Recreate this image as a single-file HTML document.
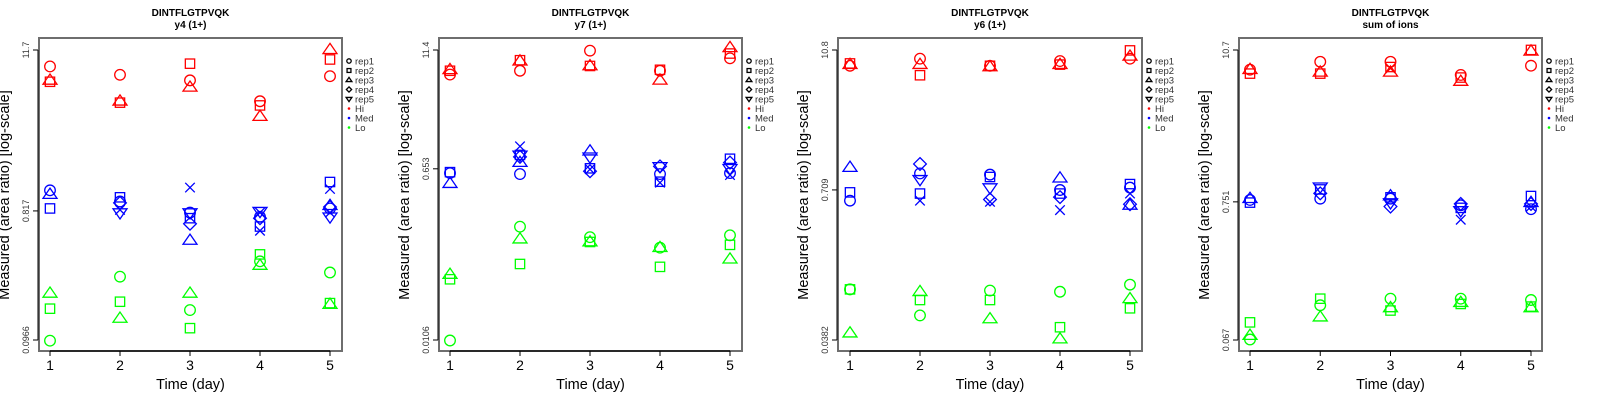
<!DOCTYPE html>
<html><head><meta charset="utf-8"><style>
html,body{margin:0;padding:0;background:#fff;width:1600px;height:400px;overflow:hidden}
svg text{font-family:"Liberation Sans",sans-serif}
</style></head><body>
<svg id="chart" width="1600" height="400" xmlns="http://www.w3.org/2000/svg"></svg>
<script>
// rep codes: 1 circle,2 square,3 triangle,4 diamond,5 down-triangle,6 cross
// each entry: [day, rep, log10(area ratio)]
const panelTitles = ["y4 (1+)", "y7 (1+)", "y6 (1+)", "sum of ions"];
const yTickLabels = [["11.7","0.817","0.0966"],["11.4","0.653","0.0106"],["10.8","0.709","0.0382"],["10.7","0.751","0.067"]];
const yTickValues = [[11.7,0.817,0.0966],[11.4,0.653,0.0106],[10.8,0.709,0.0382],[10.7,0.751,0.067]];
const days = [1,2,3,4,5];
const legendLabels = ["rep1","rep2","rep3","rep4","rep5","Hi","Med","Lo"];

const p1Hi = [[1,1,0.95],[1,2,0.84],[1,3,0.85],[2,1,0.89],[2,3,0.70],[2,2,0.69],[3,2,0.97],[3,1,0.85],[3,3,0.80],[4,1,0.70],[4,2,0.67],[4,3,0.59],[5,3,1.07],[5,2,1.00],[5,1,0.88]];
const p1Med = [[1,1,0.06],[1,3,0.03],[1,2,-0.07],[2,2,0.01],[2,1,-0.02],[2,4,-0.03],[2,6,-0.08],[2,5,-0.10],[3,6,0.08],[3,1,-0.10],[3,5,-0.10],[3,2,-0.14],[3,4,-0.18],[3,3,-0.30],[4,5,-0.09],[4,6,-0.10],[4,1,-0.13],[4,4,-0.14],[4,2,-0.20],[4,6,-0.23],[5,2,0.12],[5,6,0.07],[5,3,-0.05],[5,4,-0.06],[5,1,-0.07],[5,6,-0.10],[5,5,-0.13]];
const p1Lo = [[1,3,-0.68],[1,2,-0.79],[1,1,-1.02],[2,1,-0.56],[2,2,-0.74],[2,3,-0.86],[3,3,-0.68],[3,1,-0.80],[3,2,-0.93],[4,2,-0.40],[4,1,-0.45],[4,3,-0.48],[5,1,-0.53],[5,2,-0.75],[5,3,-0.76]];

const p2Hi = [[1,3,0.85],[1,2,0.84],[1,1,0.80],[2,2,0.95],[2,3,0.94],[2,1,0.84],[3,1,1.05],[3,2,0.89],[3,3,0.89],[4,2,0.85],[4,1,0.84],[4,3,0.74],[5,3,1.08],[5,2,1.02],[5,1,0.97]];
const p2Med = [[1,1,-0.23],[1,2,-0.22],[1,3,-0.34],[2,6,0.05],[2,2,-0.04],[2,5,-0.04],[2,4,-0.06],[2,3,-0.12],[2,1,-0.24],[3,3,0.00],[3,5,-0.06],[3,2,-0.18],[3,6,-0.19],[3,4,-0.21],[4,4,-0.16],[4,5,-0.16],[4,1,-0.24],[4,2,-0.32],[4,6,-0.33],[5,2,-0.08],[5,4,-0.12],[5,5,-0.18],[5,1,-0.23],[5,6,-0.25]];
const p2Lo = [[1,3,-1.29],[1,2,-1.34],[1,1,-1.98],[2,1,-0.79],[2,3,-0.92],[2,2,-1.18],[3,1,-0.90],[3,2,-0.95],[3,3,-0.95],[4,1,-1.01],[4,3,-1.01],[4,2,-1.21],[5,1,-0.88],[5,2,-0.98],[5,3,-1.13]];

const p3Hi = [[1,2,0.92],[1,3,0.91],[1,1,0.90],[2,1,0.96],[2,3,0.91],[2,2,0.82],[3,1,0.90],[3,2,0.90],[3,3,0.89],[4,1,0.94],[4,3,0.91],[4,2,0.91],[5,2,1.03],[5,3,0.98],[5,1,0.96]];
const p3Med = [[1,3,0.04],[1,2,-0.17],[1,1,-0.24],[2,4,0.07],[2,1,-0.01],[2,5,-0.06],[2,2,-0.18],[2,6,-0.24],[3,1,-0.02],[3,2,-0.04],[3,5,-0.13],[3,4,-0.23],[3,6,-0.25],[4,3,-0.05],[4,1,-0.15],[4,2,-0.18],[4,4,-0.21],[4,6,-0.32],[5,2,-0.10],[5,1,-0.13],[5,6,-0.18],[5,4,-0.27],[5,3,-0.28]];
const p3Lo = [[1,1,-0.99],[1,2,-0.99],[1,3,-1.36],[2,3,-1.01],[2,2,-1.08],[2,1,-1.21],[3,1,-1.00],[3,2,-1.08],[3,3,-1.24],[4,1,-1.01],[4,2,-1.31],[4,3,-1.41],[5,1,-0.95],[5,3,-1.07],[5,2,-1.15]];

const p4Hi = [[1,3,0.88],[1,1,0.88],[1,2,0.85],[2,1,0.94],[2,3,0.86],[2,2,0.85],[3,1,0.94],[3,6,0.89],[3,2,0.90],[3,3,0.86],[4,1,0.84],[4,2,0.82],[4,3,0.79],[5,2,1.03],[5,3,1.02],[5,1,0.91]];
const p4Med = [[1,3,-0.10],[1,1,-0.11],[1,2,-0.13],[2,5,-0.01],[2,2,-0.03],[2,4,-0.06],[2,1,-0.10],[3,3,-0.08],[3,2,-0.09],[3,1,-0.10],[3,5,-0.13],[3,4,-0.16],[4,4,-0.14],[4,1,-0.15],[4,2,-0.17],[4,5,-0.19],[4,6,-0.26],[5,2,-0.08],[5,3,-0.13],[5,4,-0.14],[5,6,-0.16],[5,1,-0.18]];
const p4Lo = [[1,2,-1.04],[1,3,-1.14],[1,1,-1.17],[2,2,-0.86],[2,1,-0.91],[2,3,-1.00],[3,1,-0.86],[3,3,-0.93],[3,2,-0.95],[4,1,-0.86],[4,3,-0.89],[4,2,-0.90],[5,1,-0.87],[5,2,-0.92],[5,3,-0.93]];

const panelData = [[p1Hi,p1Med,p1Lo],[p2Hi,p2Med,p2Lo],[p3Hi,p3Med,p3Lo],[p4Hi,p4Med,p4Lo]];
const groupColors = ["#ff0000","#0000ff","#00ff00"];
const groupNames = ["hi","med","lo"];

const NS = "http://www.w3.org/2000/svg";
const svg = document.getElementById("chart");
function mk(tag, attrs, parent){const e=document.createElementNS(NS,tag);for(const k in attrs)e.setAttribute(k,attrs[k]);(parent||svg).appendChild(e);return e;}

const layout = [{l:39,r:342,x1:50,x5:330},{l:439,r:742,x1:450,x5:730},{l:838,r:1142,x1:850,x5:1130},{l:1239,r:1542,x1:1250,x5:1531}];
const boxTop=38, boxBot=351, yTopPx=50, yBotPx=340;

function marker(g, rep, cx, cy, col, size){
  const s=size, sw=1.3;
  const base={fill:"none",stroke:col,"stroke-width":sw};
  let e;
  if(rep===1){e=mk("circle",Object.assign({cx:cx,cy:cy,r:s},base),g);}
  else if(rep===2){e=mk("rect",Object.assign({x:cx-s*0.88,y:cy-s*0.88,width:s*1.76,height:s*1.76},base),g);}
  else if(rep===3){const h=s*1.2;e=mk("polygon",Object.assign({points:`${cx},${cy-h} ${cx+h*1.1},${cy+h*0.6} ${cx-h*1.1},${cy+h*0.6}`},base),g);}
  else if(rep===4){const h=s*1.2;e=mk("polygon",Object.assign({points:`${cx},${cy-h} ${cx+h},${cy} ${cx},${cy+h} ${cx-h},${cy}`},base),g);}
  else if(rep===5){const h=s*1.2;e=mk("polygon",Object.assign({points:`${cx},${cy+h} ${cx+h*1.1},${cy-h*0.6} ${cx-h*1.1},${cy-h*0.6}`},base),g);}
  else {const h=s*0.9;e=mk("path",Object.assign({d:`M${cx-h},${cy-h}L${cx+h},${cy+h}M${cx-h},${cy+h}L${cx+h},${cy-h}`},base),g);}
  return e;
}

panelData.forEach((groups,pi)=>{
  const L=layout[pi];
  const g=mk("g",{});
  
  
  const lt=Math.log10(yTickValues[pi][0]), lb=Math.log10(yTickValues[pi][2]);
  const yScale=v=>yTopPx+(lt-v)/(lt-lb)*(yBotPx-yTopPx);
  const xScale=d=>L.x1+(d-1)*(L.x5-L.x1)/4;
  const cxm=(L.l+L.r)/2;
  let t=mk("text",{x:cxm,y:16,"text-anchor":"middle","font-size":"10","font-weight":"bold",fill:"#000"},g);t.textContent="DINTFLGTPVQK";
  
  t=mk("text",{x:cxm,y:28,"text-anchor":"middle","font-size":"10","font-weight":"bold",fill:"#000"},g);t.textContent=panelTitles[pi];
  
  const box=mk("rect",{x:L.l,y:boxTop,width:L.r-L.l,height:boxBot-boxTop,fill:"none",stroke:"#6e6e6e","stroke-width":2},g);
  
  const ya=mk("g",{},g);
  mk("line",{x1:L.l-1,x2:L.l-1,y1:yScale(lt),y2:yScale(lb),stroke:"#000","stroke-width":1},ya);
  yTickValues[pi].forEach((v,i)=>{
    const y=yScale(Math.log10(v));
    mk("line",{x1:L.l-6,x2:L.l-1,y1:y,y2:y,stroke:"#000","stroke-width":1},ya);
    const tx=mk("text",{x:0,y:0,"text-anchor":"middle","font-size":"9",fill:"#333",transform:`translate(${L.l-10},${y}) rotate(-90)`},ya);
    tx.textContent=yTickLabels[pi][i];
    
  });
  const yl=mk("text",{x:0,y:0,"text-anchor":"middle","font-size":"14.5",fill:"#000",transform:`translate(${L.l-30},195) rotate(-90)`},g);
  yl.textContent="Measured (area ratio) [log-scale]";
  
  const xa=mk("g",{},g);
  mk("line",{x1:xScale(1),x2:xScale(5),y1:boxBot,y2:boxBot,stroke:"#000","stroke-width":1.2},xa);
  days.forEach(d=>{
    const x=xScale(d);
    mk("line",{x1:x,x2:x,y1:boxBot,y2:boxBot+5,stroke:"#000","stroke-width":1},xa);
    const tx=mk("text",{x:x,y:370,"text-anchor":"middle","font-size":"14",fill:"#000"},xa);tx.textContent=String(d);
    
  });
  const xl=mk("text",{x:cxm,y:389,"text-anchor":"middle","font-size":"14.5",fill:"#000"},g);xl.textContent="Time (day)";
  
  groups.forEach((pts,gi)=>{
    const sg=mk("g",{},g);
    
    
    pts.forEach(p=>{
      const m=marker(sg,p[1],xScale(p[0]),yScale(p[2]),groupColors[gi],5.3);
      
      
    });
  });
  const lg=mk("g",{},g);
  legendLabels.forEach((lab,i)=>{
    const y=61+i*9.5;
    const sx=L.r+7;
    const it=mk("g",{},lg);
    
    
    if(i<5){marker(it,i+1,sx,y,"#000",2.2);}
    else{mk("circle",{cx:sx,cy:y,r:1.3,fill:groupColors[i-5]},it);}
    const tx=mk("text",{x:sx+6,y:y+3.3,"font-size":"9.5",fill:"#333"},it);tx.textContent=lab;
  });
});
</script>
</body></html>
